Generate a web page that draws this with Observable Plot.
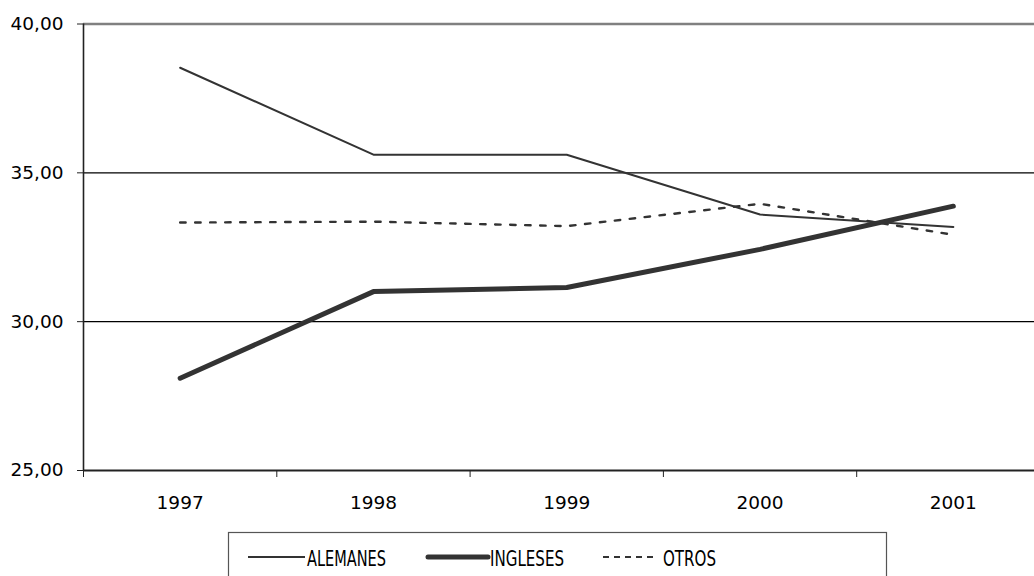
<!DOCTYPE html>
<html>
<head>
<meta charset="utf-8">
<script src="https://cdn.jsdelivr.net/npm/d3@7"></script>
<script src="https://cdn.jsdelivr.net/npm/@observablehq/plot@0.6"></script>
<style>
  html, body { margin: 0; padding: 0; background: #fff; }
  #chart svg { display: block; }
  #legend { display: block; }
</style>
</head>
<body>
<div id="chart"></div>
<svg id="legend" width="1034" height="51"></svg>
<script>
const years = [1997, 1998, 1999, 2000, 2001];
const alemanes = [38.53, 35.61, 35.61, 33.60, 33.18];
const ingleses = [28.10, 31.01, 31.15, 32.43, 33.88];
const otros = [33.33, 33.36, 33.21, 33.96, 32.92];
const seriesNames = ["ALEMANES", "INGLESES", "OTROS"];
const yTicks = [25, 30, 35, 40];
const gridValues = [30, 35];
const bandEdges = [1996.5, 1997.5, 1998.5, 1999.5, 2000.5, 2001.5];

const toRows = (vals, name) => years.map((y, i) => ({year: y, value: vals[i], serie: name}));
const rowsA = toRows(alemanes, seriesNames[0]);
const rowsI = toRows(ingleses, seriesNames[1]);
const rowsO = toRows(otros, seriesNames[2]);

const fmt = d => d.toFixed(2).replace(".", ",");

const chart = Plot.plot({
  width: 1034,
  height: 525,
  marginTop: 23.5,
  marginBottom: 55,
  marginLeft: 83,
  marginRight: 0,
  style: {fontFamily: "DejaVu Sans", fontSize: "18.5px", color: "#000", background: "#fff"},
  x: {domain: [bandEdges[0], bandEdges[bandEdges.length - 1]], range: [83, 1049.5]},
  y: {domain: [25, 40], range: [470, 23.5]},
  marks: [
    Plot.ruleY(gridValues, {x1: bandEdges[0], x2: bandEdges[5], stroke: "#000", strokeWidth: 1.2}),
    Plot.ruleY([40], {x1: bandEdges[0], x2: bandEdges[5], stroke: "#808080", strokeWidth: 2.6}),
    Plot.ruleY([25], {x1: bandEdges[0], x2: bandEdges[5], stroke: "#222", strokeWidth: 2}),
    Plot.ruleX([bandEdges[0]], {y1: 25, y2: 40, stroke: "#222", strokeWidth: 1.6}),
    Plot.axisY({ticks: yTicks, tickSize: 6, tickPadding: 14, tickFormat: fmt, label: null, stroke: "#222"}),
    Plot.axisX({ticks: bandEdges, tickSize: 7, tickFormat: () => "", label: null, stroke: "#222"}),
    Plot.axisX({ticks: years, tickSize: 0, tickPadding: 25, tickFormat: d => String(d), label: null}),
    Plot.line(rowsO, {x: "year", y: "value", stroke: "#333", strokeWidth: 2.4, strokeDasharray: "5.5,9.5"}),
    Plot.line(rowsA, {x: "year", y: "value", stroke: "#333", strokeWidth: 2}),
    Plot.line(rowsI, {x: "year", y: "value", stroke: "#333", strokeWidth: 5, strokeLinecap: "round"})
  ]
});
document.getElementById("chart").appendChild(chart);

// Legend
const lg = d3.select("#legend");
lg.append("rect").attr("x", 228.5).attr("y", 7.5).attr("width", 658).attr("height", 80)
  .attr("fill", "#fff").attr("stroke", "#555").attr("stroke-width", 1.2);
const items = [
  {name: seriesNames[0], x1: 248, x2: 305, w: 2, dash: null, tx: 307, tl: 79},
  {name: seriesNames[1], x1: 428, x2: 488, w: 5, dash: null, tx: 490, tl: 74},
  {name: seriesNames[2], x1: 603, x2: 656, w: 2.2, dash: "6,5", tx: 663, tl: 53}
];
items.forEach(it => {
  const l = lg.append("line").attr("x1", it.x1).attr("x2", it.x2).attr("y1", 32).attr("y2", 32)
    .attr("stroke", "#333").attr("stroke-width", it.w);
  if (it.dash) l.attr("stroke-dasharray", it.dash);
  if (it.w > 3) l.attr("stroke-linecap", "round");
  lg.append("text").attr("x", it.tx).attr("y", 40.5).text(it.name)
    .attr("font-family", "DejaVu Sans").attr("font-size", 22).attr("fill", "#000")
    .attr("textLength", it.tl).attr("lengthAdjust", "spacingAndGlyphs");
});
</script>
</body>
</html>
